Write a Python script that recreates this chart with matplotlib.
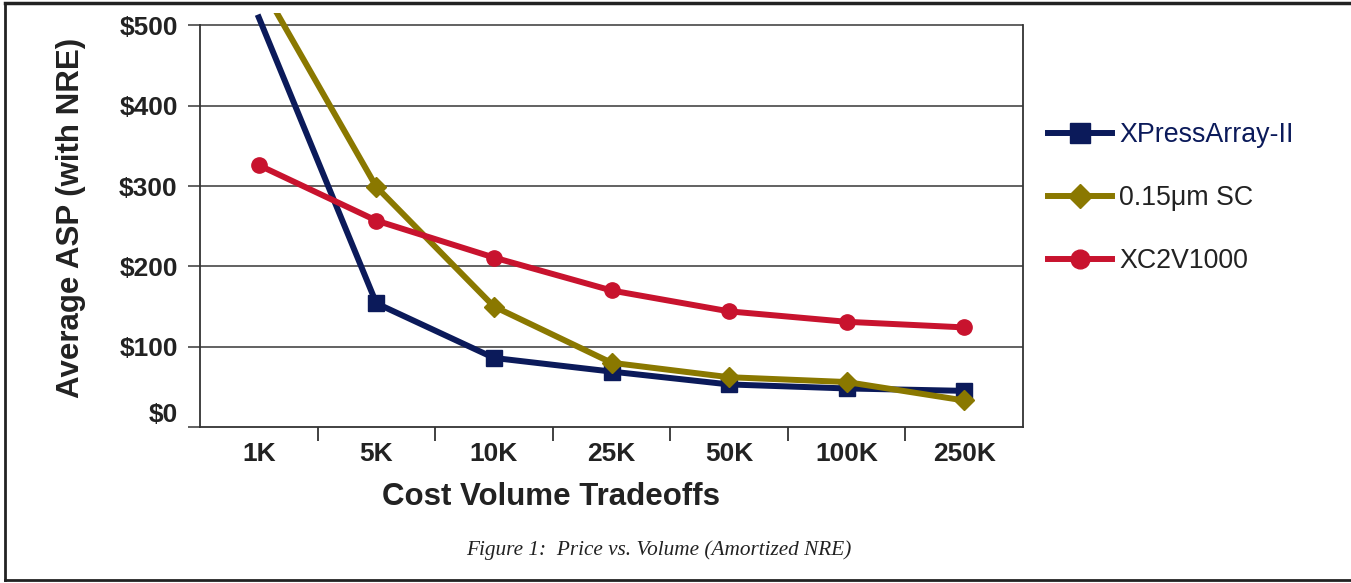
import matplotlib
matplotlib.use('Agg')
from matplotlib import pyplot as plt
from matplotlib.lines import Line2D
from matplotlib.ticker import FixedLocator

plt.rcParams['font.family'] = ['Liberation Sans', 'DejaVu Sans']

# data
volumes = ['1K', '5K', '10K', '25K', '50K', '100K', '250K']
xpress = [510, 154, 86, 69, 53, 48, 45]
sc015 = [555, 299, 150, 80, 62, 56, 33]
xc2v = [326, 257, 211, 170, 144, 131, 124]
y_ticks = [0, 100, 200, 300, 400, 500]
y_labels = ['$0', '$100', '$200', '$300', '$400', '$500']

navy = '#0b1a5a'
olive = '#8a7800'
red = '#c8132e'

fig = plt.figure(figsize=(13.51, 5.83), dpi=100)
ax = fig.add_axes([200 / 1351, 1 - 427 / 583, 823 / 1351, (427 - 13.4) / 583])

xs = list(range(len(volumes)))
series = [
    (xpress, navy, 's', 12, 'XPressArray-II'),
    (sc015, olive, 'D', 10, '0.15\u03bcm SC'),
    (xc2v, red, 'o', 11, 'XC2V1000'),
]
handles = []
for vals, col, mk, ms, name in series:
    ax.plot(xs, vals, color=col, lw=4.3, zorder=3)
    # only points inside the 0-500 range get a marker
    px = [x for x, v in zip(xs, vals) if v <= 500]
    py = [v for v in vals if v <= 500]
    ax.plot(px, py, ls='none', marker=mk, ms=ms, color=col, zorder=3)
    handles.append(Line2D([], [], color=col, lw=4.3, marker=mk, ms=ms + 2.5))

ax.set_xlim(-0.5, len(volumes) - 0.5)
ax.set_ylim(0, 515)

for y in y_ticks[1:]:
    ax.axhline(y, color='#555555', lw=1.3, zorder=1)

ax.spines['top'].set_visible(False)
for s in ['left', 'right', 'bottom']:
    ax.spines[s].set_color('#333333')
    ax.spines[s].set_linewidth(1.3)
ax.spines['left'].set_bounds(0, 500)
ax.spines['right'].set_bounds(0, 500)

ax.set_yticks(y_ticks)
ax.set_yticklabels(y_labels, fontsize=19, fontweight='bold', color='#222222')
ax.tick_params(axis='y', length=9, width=1.3, color='#555555', pad=7)
ax.get_yticklabels()[0].set_verticalalignment('bottom')

ax.set_xticks(xs)
ax.set_xticklabels(volumes, fontsize=19, fontweight='bold', color='#222222')
ax.tick_params(axis='x', which='major', length=0, pad=11)
ax.xaxis.set_minor_locator(FixedLocator([i + 0.5 for i in range(len(volumes) - 1)]))
ax.tick_params(axis='x', which='minor', length=10, width=1.3, color='#333333')

ax.set_ylabel('Average ASP (with NRE)', fontsize=22.5, fontweight='bold', color='#222222')
ax.yaxis.set_label_coords(-0.1385, 0.505)
ax.set_xlabel('Cost Volume Tradeoffs', fontsize=22.5, fontweight='bold', color='#222222')
ax.xaxis.set_label_coords(0.4265, -0.133)

leg = fig.legend(handles, [s[4] for s in series], loc='center left',
                 bbox_to_anchor=(1048 / 1351, 1 - 198 / 583), frameon=False,
                 fontsize=19.3, handlelength=2.4, handletextpad=0.25,
                 labelspacing=1.38, borderpad=0, borderaxespad=0)
for txt, col in zip(leg.get_texts(), [navy, '#222222', '#222222']):
    txt.set_color(col)

fig.text(0.488, 1 - 550 / 583, 'Figure 1:  Price vs. Volume (Amortized NRE)',
         family='Liberation Serif', style='italic', fontsize=15.3,
         color='#222222', ha='center', va='center')

# page frame: top, left, bottom
fig.add_artist(Line2D([5 / 1351, 1], [1 - 3 / 583, 1 - 3 / 583], color='#222222', lw=2.5))
fig.add_artist(Line2D([5 / 1351, 5 / 1351], [1 - 3 / 583, 1 - 580 / 583], color='#222222', lw=2))
fig.add_artist(Line2D([5 / 1351, 1], [1 - 580 / 583, 1 - 580 / 583], color='#222222', lw=2))

fig.savefig('out.png', dpi=100)
